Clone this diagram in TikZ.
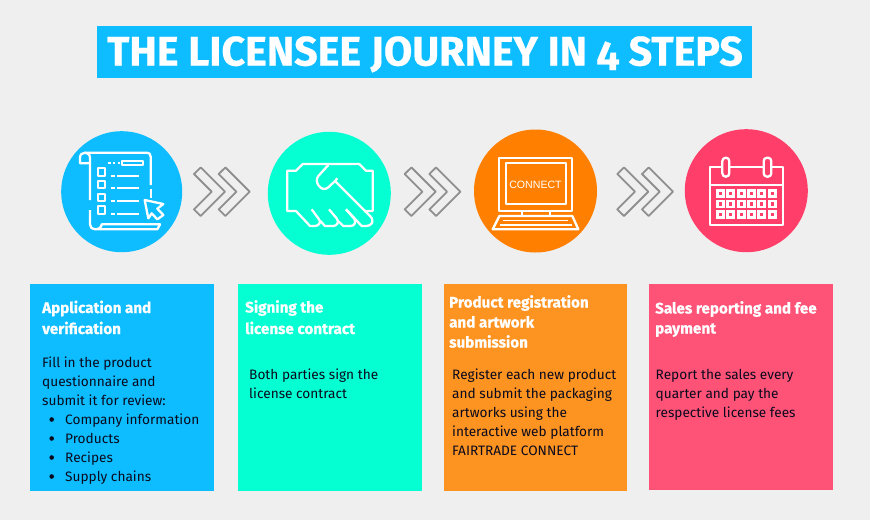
\documentclass[tikz,border=0pt]{standalone}
\usepackage{fontspec}
\setmainfont{Fira Sans}[BoldFeatures={FakeBold=0.6}]
\newfontfamily\titlefont[Numbers=OldStyle,BoldFeatures={FakeBold=0.6}]{Fira Sans}
\newfontfamily\monfont{Liberation Sans}
\definecolor{bgc}{HTML}{EFEFEF}
\definecolor{cblue}{HTML}{0DBDFF}
\definecolor{cteal}{HTML}{05FFD2}
\definecolor{corange}{HTML}{FF8000}
\definecolor{cpink}{HTML}{FF3F6A}
\definecolor{borange}{HTML}{FD9320}
\definecolor{bpink}{HTML}{FF5277}
\definecolor{chev}{HTML}{8F8F8F}
\definecolor{bodyc}{HTML}{0A0A1E}
\tikzset{
  head/.style={anchor=base west,inner sep=0pt,text=white,font=\fontsize{15.2}{16}\selectfont\bfseries},
  body/.style={anchor=base west,inner sep=0pt,text=bodyc,font=\fontsize{13.65}{16}\selectfont},
  icon/.style={draw=white,line width=2.3pt,fill=none,line join=round},
  chevshape/.style={draw=chev,line width=1.8pt,fill=none,line join=round},
  chevpair/.pic={
    \foreach \d in {0,24.7}{
      \draw[chevshape,shift={(\d,0)}] (6.7,-24.3)--(31,0)--(6.7,24.3)--(0,17.7)--(17.7,0)--(0,-17.7)--cycle;
    }
  }
}
\begin{document}
\begin{tikzpicture}[x=1pt,y=-1pt]
\useasboundingbox (0,0) rectangle (870,520);
\fill[bgc] (0,0) rectangle (870,520);
% title
\fill[cblue] (97,26) rectangle (752,78);
\node[anchor=base,inner sep=0pt,text=white,font=\fontsize{41.2}{44}\selectfont\titlefont\bfseries] (title) at (425,65.5) {THE LICENSEE JOURNEY IN 4 STEPS};
% circles
\fill[cblue] (121.7,191.7) circle (60.5);
\fill[cteal] (329.3,193.3) circle (61.5);
\fill[corange] (535.5,191) circle (61.5);
\fill[cpink] (746.3,190.7) circle (61.5);
% chevrons
\pic at (194,191.7) {chevpair};
\pic at (404.7,191.7) {chevpair};
\pic at (617.3,191.7) {chevpair};
% document icon
\begin{scope}[shift={(40,130)},x=0.33333pt,y=-0.33333pt]
\draw[icon] (150,100)--(120,100)--(120,84) .. controls (120,74) and (126,68) .. (135,68)--(320,68) .. controls (328,68) and (332,72) .. (332,80)--(332,165);
\draw[icon] (135,68) .. controls (144,68) and (150,74) .. (150,84)--(150,210);
\draw[icon] (332,178)--(332,205);
\draw[icon] (150,240)--(150,283) .. controls (150,292) and (156,298) .. (165,298)--(352,298)--(360,283)--(185,283) .. controls (185,292) and (176,298) .. (165,298);
\draw[icon] (205,99)--(212,99) (220,99)--(226,99) (233,99)--(240,99);
\draw[icon] (247,92) rectangle (310,106);
\foreach \yy in {115,153,191,229}{
  \draw[icon] (173,\yy) rectangle (195,\yy+22);
  \draw[icon] (212,\yy+22)--(225,\yy+22) (232,\yy+22)--(297,\yy+22);
}
\draw[icon] (314,210)--(370,222)--(352,236)--(370,255)--(352,268)--(335,250)--(325,265)--cycle;
\end{scope}
% handshake icon
\begin{scope}[shift={(260,130)},x=0.33333pt,y=-0.33333pt]
\draw[icon] (312,243)--(338,243)--(338,122)--(318,122)--(298,102)--(128,102)--(108,122)--(82,122)--(82,243)--(108,243)--(150,288)--(165,288) .. controls (178,288) and (185,275) .. (175,265)--(155,238);
\draw[icon] (205,105)--(175,138) .. controls (160,155) and (185,190) .. (205,172)--(225,153)--(330,258) .. controls (345,272) and (335,288) .. (320,288)--(305,288)--(258,238);
\draw[icon] (225,153)--(232,145);
\draw[icon] (180,272)--(195,288)--(220,288) .. controls (232,288) and (238,275) .. (230,265)--(207,238);
\draw[icon] (233,272)--(250,288)--(272,288) .. controls (284,288) and (290,275) .. (282,265)--(258,238);
\end{scope}
% monitor icon
\begin{scope}[shift={(465,130)},x=0.33333pt,y=-0.33333pt]
\draw[icon] (102,83) rectangle (322,243);
\draw[icon] (122,100) rectangle (302,222);
\draw[icon] (172,243)--(172,258) (255,243)--(255,258);
\draw[icon] (103,258)--(322,258)--(340,298)--(83,298)--cycle;
\draw[icon,line width=1.2pt] (115,272)--(310,272) (105,285)--(320,285);
\end{scope}
\node[inner sep=0pt,text=white,font=\fontsize{10.6}{12}\monfont] (connect) at (535.5,185) {CONNECT};
% calendar icon
\begin{scope}[shift={(610,125)},x=0.33333pt,y=-0.33333pt]
\draw[icon] (300,125) rectangle (520,300);
\draw[icon,line width=2.6pt] (300,180)--(520,180);
\draw[icon,fill=cpink,rounded corners=3.4pt] (337,98) rectangle (358,155);
\draw[icon,fill=cpink,rounded corners=3.4pt] (461,98) rectangle (484,155);
\foreach \xx in {318,349,380,411,442,473}{
  \foreach \yy in {192,224,256}{
    \fill[white] (\xx,\yy) rectangle (\xx+27,\yy+26);
    \fill[cpink] (\xx+9,\yy+8) rectangle (\xx+18,\yy+18);
  }
}
\end{scope}
% panels
\fill[cblue] (30,284) rectangle (213.7,491);
\fill[cteal] (238,284) rectangle (421.7,491);
\fill[borange] (444,284) rectangle (627,491);
\fill[bpink] (649,284) rectangle (833,490);
% panel 1
\node[head] (a1) at (42,313) {Application and};
\node[head] (a2) at (42,334) {verification};
\node[body] (a3) at (42,367.2) {Fill in the product};
\node[body] (a4) at (42,386.2) {questionnaire and};
\node[body] (a5) at (42,405) {submit it for review:};
\node[body] (a6) at (65,424) {Company information};
\node[body] (a7) at (65,443) {Products};
\node[body] (a8) at (65,462) {Recipes};
\node[body] (a9) at (65,481) {Supply chains};
\foreach \yy in {419.5,438.5,457.5,476.5}{\fill[bodyc] (51.7,\yy) circle (2.3);}
% panel 2
\node[head] (b1) at (245,312.5) {Signing the};
\node[head] (b2) at (245,334) {license contract};
\node[body] (b3) at (249,379) {Both parties sign the};
\node[body] (b4) at (249,398) {license contract};
% panel 3
\node[head] (c1) at (449,307.5) {Product registration};
\node[head] (c2) at (449,327.5) {and artwork};
\node[head] (c3) at (449,347.5) {submission};
\node[body] (c4) at (452,379) {Register each new product};
\node[body] (c5) at (452,398) {and submit the packaging};
\node[body] (c6) at (452,417) {artworks using the};
\node[body] (c7) at (452,436) {interactive web platform};
\node[body] (c8) at (452,455) {FAIRTRADE CONNECT};
% panel 4
\node[head] (d1) at (655,313.5) {Sales reporting and fee};
\node[head] (d2) at (655,333.5) {payment};
\node[body] (d3) at (655.5,379) {Report the sales every};
\node[body] (d4) at (655.5,398) {quarter and pay the};
\node[body] (d5) at (655.5,417) {respective license fees};
\end{tikzpicture}
\end{document}
